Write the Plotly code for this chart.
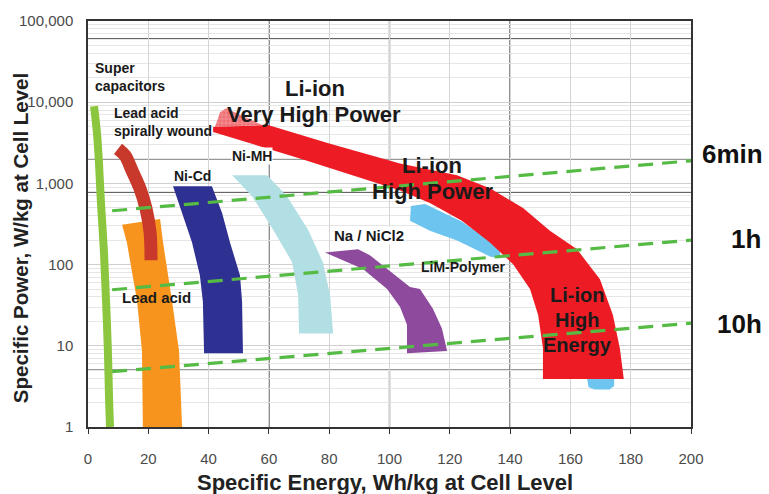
import plotly.graph_objects as go

# ---------------- data (Specific energy Wh/kg, specific power W/kg) ----------------
supercap_e = [2.0, 3.0, 3.65, 4.3, 5.3, 6.0, 6.6, 7.0, 7.3]
supercap_p = [8900, 4060, 1760, 573, 141, 34.8, 8.6, 2.1, 1.0]

spiral_e = [9.95, 12.3, 14.6, 17.2, 19.2, 20.6, 20.9]
spiral_p = [2670, 2200, 1440, 871, 498, 247, 113]

leadacid_e = [11.3, 12.9, 16.3, 17.9, 18.2, 31.2, 30.2, 27.9, 24.9, 23.9]
leadacid_p = [309, 187, 35, 8.6, 1.0, 1.0, 8.6, 35, 187, 364]

nicd_e = [28.2, 34.5, 37.1, 38.1, 38.5, 51.4, 51.1, 50.4, 47.1, 44.5, 41.1]
nicd_p = [920, 187, 74, 35, 8.1, 8.1, 35, 74, 187, 430, 920]

nimh_e = [47.8, 54.4, 61.4, 67.7, 69.7, 70.0, 81.3, 80.3, 77.9, 73.0, 66.0, 59.4]
nimh_p = [1256, 697, 269, 107, 42, 14.2, 14.2, 42, 107, 269, 697, 1256]

nanicl_e = [78.6, 89.6, 93.5, 106.8, 110.1, 114.4, 117.4, 119.1, 105.8, 105.8, 103.5, 99.2, 91.2]
nanicl_p = [141, 154, 130, 53, 50, 28.6, 16.3, 8.6, 8.1, 18.2, 30, 50, 88]

limpoly_e = [107.1, 111.8, 124.1, 136.7, 136.7, 133.3, 122.4, 113.4, 106.8]
limpoly_p = [526, 557, 336, 158, 119, 126, 198, 261, 346]

limblob_e = [165.5, 174.5, 174.5, 173.0, 168.0, 166.0]
limblob_p = [4.0, 4.0, 3.2, 2.9, 2.9, 3.1]

liion_e = [41.5, 59.7, 80.3, 103.5, 122.4, 133.3, 144.3, 153.2, 162.2, 169.8, 174.1, 176.4, 177.7,
           150.9, 150.9, 149.3, 146.6, 141.0, 133.3, 124.0, 113.4, 103.5, 70.3, 41.5]
liion_p = [4950, 5240, 3075, 1757, 1256, 873, 498, 261, 154, 66, 24, 9.3, 3.9,
           3.9, 9.3, 24, 50, 101, 187, 346, 573, 820, 2020, 4300]

vhp_e = [42.1, 43.8, 45.8, 57.7]
vhp_p = [4950, 7540, 8430, 5240]

line_e = [8, 200]
line_6min = [460, 1900]
line_1h = [49, 200]
line_10h = [4.8, 19]

x_ticks = [0, 20, 40, 60, 80, 100, 120, 140, 160, 180, 200]
y_ticks = [1, 10, 100, 1000, 10000, 100000]
y_ticktext = ["1", "10", "100", "1,000", "10,000", "100,000"]

dark_h = [5, 780, 2000, 60000]
dark_v_full = [60, 140]

FONT = "Liberation Sans, Arial, sans-serif"

fig = go.Figure()


def band(x, y, color, name, pattern=None):
    kw = {}
    if pattern:
        kw["fillpattern"] = pattern
    fig.add_trace(go.Scatter(x=x + [x[0]], y=y + [y[0]], mode="lines", fill="toself",
                             fillcolor=color, line=dict(width=0, color=color),
                             hoverinfo="skip", name=name, showlegend=False, **kw))


band(leadacid_e, leadacid_p, "#f7941d", "Lead acid")
fig.add_trace(go.Scatter(x=spiral_e, y=spiral_p, mode="lines",
                         line=dict(color="#c9392b", width=13, shape="spline"),
                         hoverinfo="skip", showlegend=False))
fig.add_trace(go.Scatter(x=supercap_e, y=supercap_p, mode="lines",
                         line=dict(color="#8cc63e", width=8, shape="spline"),
                         hoverinfo="skip", showlegend=False))
band(nicd_e, nicd_p, "#2e3192", "Ni-Cd")
band(nimh_e, nimh_p, "#b2dfe4", "Ni-MH")
band(nanicl_e, nanicl_p, "#8e4a9c", "Na/NiCl2")
band(limpoly_e, limpoly_p, "#6dc5ef", "LiM-Polymer")
band(limblob_e, limblob_p, "#6dc5ef", "LiM-Polymer2")
band(vhp_e, vhp_p, "#f07f84", "VHP",
     pattern=dict(shape="+", fgcolor="#f9c9c9", bgcolor="#ef6f75", size=4, solidity=0.3))
band(liion_e, liion_p, "#ed1c24", "Li-ion")

for yy in (line_6min, line_1h, line_10h):
    fig.add_trace(go.Scatter(x=line_e, y=yy, mode="lines",
                             line=dict(color="#56bb44", width=3.2, dash="15px,9px"),
                             hoverinfo="skip", showlegend=False))

# dark composite lines
for h in dark_h:
    fig.add_shape(type="line", xref="x", yref="y", x0=0, x1=200, y0=h, y1=h,
                  line=dict(color="#333333", width=1.3), layer="below")
for v in dark_v_full:
    fig.add_shape(type="line", xref="x", yref="y", x0=v, x1=v, y0=1, y1=100000,
                  line=dict(color="#333333", width=1.3), layer="below")
fig.add_shape(type="line", xref="x", yref="y", x0=100, x1=100, y0=780, y1=100000,
              line=dict(color="#333333", width=1.3), layer="below")
fig.add_shape(type="line", xref="x", yref="y", x0=100, x1=100, y0=1, y1=5,
              line=dict(color="#333333", width=1.3), layer="below")


def lab(text, e, p_log, size, anchor="center", bg=None):
    fig.add_annotation(x=e, y=p_log, xref="x", yref="y", text="<b>%s</b>" % text,
                       showarrow=False, xanchor=anchor, yanchor="middle", align="left",
                       font=dict(family=FONT, size=size, color="#1a1a1a"),
                       bgcolor=bg, borderpad=0)


lab("Super<br>capacitors", 2.0, 4.309, 14, anchor="left")
lab("Lead acid<br>spirally wound", 8.3, 3.755, 14, anchor="left")
lab("Ni-Cd", 34.5, 3.086, 14)
lab("Ni-MH", 54.4, 3.342, 14, bg="white")
lab("Li-ion", 75.3, 4.165, 22)
lab("Very High Power", 75.0, 3.85, 22)
lab("Li-ion", 114.1, 3.215, 22)
lab("High Power", 114.1, 2.9, 22)
lab("Na / NiCl2", 93.2, 2.353, 15, bg="white")
lab("LiM-Polymer", 110.1, 1.968, 14, anchor="left")
lab("Lead acid", 22.6, 1.601, 15)
lab("Li-ion", 162.2, 1.63, 20)
lab("High", 162.2, 1.321, 20)
lab("Energy", 162.2, 1.012, 20)

for t, px, pl in (("6min", 1.068, 3.365), ("1h", 1.091, 2.320), ("10h", 1.081, 1.274)):
    fig.add_annotation(x=px, y=pl, xref="paper", yref="y", text="<b>%s</b>" % t, showarrow=False,
                       xanchor="center", yanchor="middle",
                       font=dict(family=FONT, size=26, color="#111111"))

fig.add_annotation(x=0.4925, y=-0.136, xref="paper", yref="paper",
                   text="<b>Specific Energy, Wh/kg at Cell Level</b>", showarrow=False,
                   xanchor="center", yanchor="middle",
                   font=dict(family=FONT, size=22, color="#222222"))
fig.add_annotation(x=-0.1128, y=0.465, xref="paper", yref="paper",
                   text="<b>Specific Power, W/kg at Cell Level</b>", showarrow=False,
                   textangle=-90, xanchor="center", yanchor="middle",
                   font=dict(family=FONT, size=20.5, color="#222222"))

fig.update_xaxes(range=[0, 200], tickvals=x_ticks, showgrid=True, gridcolor="#d4d4d4",
                 gridwidth=1, showline=True, mirror=True, linecolor="#333333", linewidth=1.5,
                 ticks="outside", ticklen=5, tickcolor="#333333", ticklabelstandoff=12,
                 tickfont=dict(family=FONT, size=15, color="#4a4a4a"), zeroline=False)
fig.update_yaxes(type="log", range=[0, 5], tickvals=y_ticks, ticktext=y_ticktext,
                 showgrid=True, gridcolor="#cfcfcf", gridwidth=1,
                 minor=dict(dtick="D1", showgrid=True, gridcolor="#e6e6e6", gridwidth=1),
                 showline=True, mirror=True, linecolor="#333333", linewidth=1.5,
                 ticks="", ticklabelstandoff=10,
                 tickfont=dict(family=FONT, size=15, color="#4a4a4a"), zeroline=False)

fig.update_layout(width=769, height=494, margin=dict(l=88, r=78, t=16, b=67),
                  plot_bgcolor="white", paper_bgcolor="white", showlegend=False)

fig.write_html("out.html")
